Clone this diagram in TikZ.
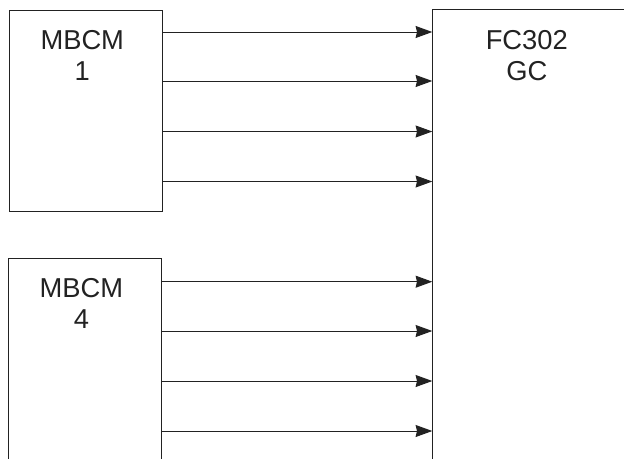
\documentclass[tikz,border=0pt]{standalone}
\usepackage{fontspec}
\setmainfont{Liberation Sans}
\usetikzlibrary{arrows.meta,positioning}
\definecolor{linegray}{HTML}{222222}

\begin{document}
\begin{tikzpicture}[x=0.75pt, y=-0.75pt,
    every node/.style={font=\fontsize{20.5pt}{23.25pt}\selectfont, text=linegray},
    module/.style={draw=linegray, line width=0.75pt, inner sep=0pt, anchor=north west},
    title/.style={align=center, anchor=north, inner sep=0pt},
    feed/.style={-{Stealth[length=12.5pt, width=9pt, inset=1pt]}, line width=0.75pt, draw=linegray}]
  \useasboundingbox (0,0) rectangle (624,458);
  \clip (0,0) rectangle (624,458);
  % boxes
  \node[module, minimum width=114.6pt, minimum height=151.1pt] (mbcm1) at (8.7,9.5) {};
  \node[module, minimum width=114.4pt, minimum height=151.1pt] (mbcm4) at (8,257.5) {};
  \node[module, minimum width=150pt, minimum height=345pt] (fc) at (432.3,9) {};
  % titles
  \node[title, below=15.4pt of mbcm1.north, xshift=-2.5pt] (mbcm1t) {MBCM\\1};
  \node[title, below=15.4pt of mbcm4.north, xshift=-2.5pt] (mbcm4t) {MBCM\\4};
  \node[title, below=15.7pt of fc.north, xshift=-4.5pt] (fct) {FC302\\GC};
  % signal lines
  \foreach \y in {32,81,131.5,181.5}
    \draw[feed] (mbcm1.east |- 0,\y) -- (fc.west |- 0,\y);
  \foreach \y in {281.7,331,381,431}
    \draw[feed] (mbcm4.east |- 0,\y) -- (fc.west |- 0,\y);
\end{tikzpicture}
\end{document}
